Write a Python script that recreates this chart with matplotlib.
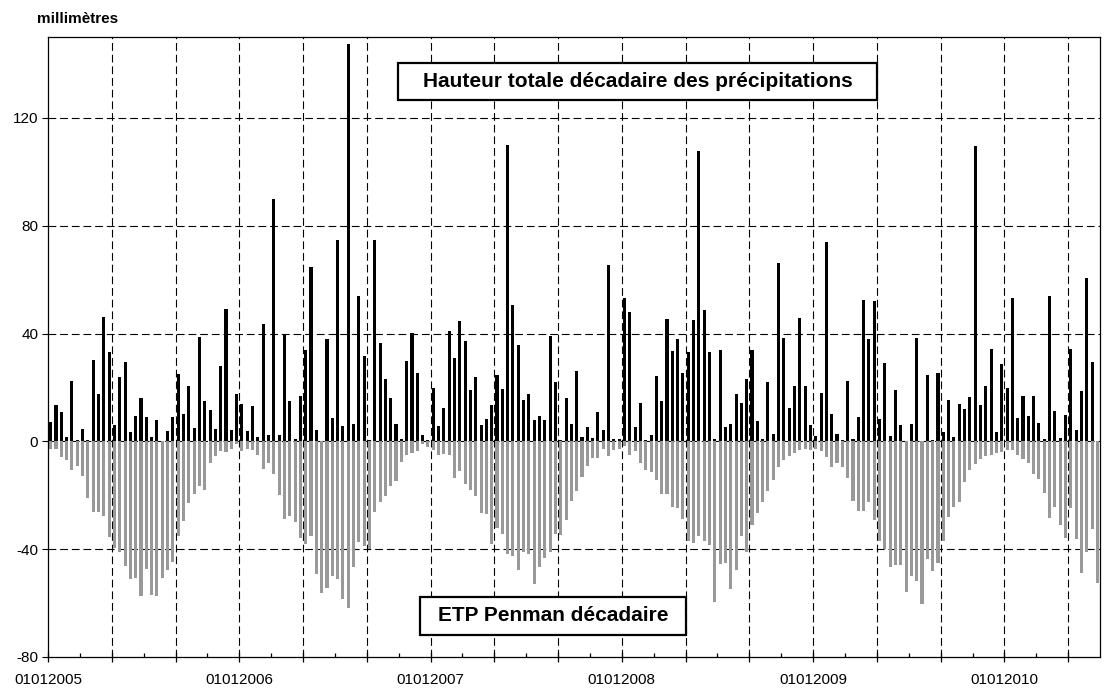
import numpy as np
import matplotlib
matplotlib.use('Agg')
import matplotlib.pyplot as plt
from matplotlib.patches import Rectangle

# decadal rainfall (mm), Jan 2005 -> Jun 2010, 36 dekads a year
precip = [
    7, 13.6, 10.8, 1.5, 22.3, 0.6, 4.7, 0.6, 30, 17.5, 46.2, 33.3, 6.2, 24, 29.6, 3.3, 9.5, 16.2,
    9.2, 1.7, 8, 0, 4, 9, 24.8, 10.3, 20.4, 5, 38.7, 14.8, 11.5, 4.7, 27.8, 49, 4.3, 17.5,
    14, 4, 13.2, 1.5, 43.7, 2.5, 89.9, 2.5, 39.6, 14.8, 1, 16.7, 34, 64.7, 4.3, 0, 37.9, 8.8,
    74.6, 5.8, 147.4, 6.6, 54, 31.6, 0.6, 74.6, 36.3, 23, 16.1, 6.6, 1, 29.7, 40.2, 25.5, 2.2, 0.6,
    19.8, 5.7, 12.4, 40.8, 30.9, 44.6, 37.3, 18.9, 23.9, 5.9, 8.2, 13.4, 24.5, 19.4, 109.9, 50.5, 35.6, 15.2,
    17.5, 7.8, 9.3, 7.8, 39, 21.9, 0.5, 16.1, 6.3, 26, 1.6, 5.2, 1.2, 10.8, 4.1, 65.3, 1, 1,
    53.3, 47.9, 5.2, 14.4, 0.6, 2.2, 24.1, 14.9, 45.5, 33.4, 38.1, 25.5, 33, 44.9, 107.7, 48.9, 33, 1,
    33.8, 5.2, 6.3, 17.7, 14.4, 23, 34, 7.4, 0.7, 21.9, 2.6, 66, 38.5, 12.4, 20.4, 45.9, 20.7, 5.9,
    1.9, 18.1, 73.8, 10.3, 2.6, 0.4, 22.3, 1, 8.9, 52.4, 37.9, 52, 8.4, 29.2, 1.9, 18.9, 5.9, 0.3,
    6.3, 38.5, 0.3, 24.5, 0.4, 25.5, 3.3, 15.2, 1.5, 14, 11.9, 16.3, 109.5, 13.4, 20.4, 34.2, 3.3, 28.6,
    19.8, 53, 8.7, 16.7, 9.4, 16.7, 6.7, 0.7, 53.8, 11.1, 1.2, 9.7, 34.2, 4.1, 18.6, 60.5, 29.3, 0,
]

# decadal Penman ETP (mm), drawn downward
etp = [
    -2.7, -2.7, -5.8, -7.1, -10.8, -9.2, -12.9, -21.1, -26.3, -26.3, -27.6, -35.4, -39.4, -41.2, -46.2, -50.9, -50.6, -57.4,
    -47.2, -57, -57.4, -50.6, -47.7, -44.7, -35, -29.7, -23, -19.5, -16.6, -17.9, -8.1, -5.5, -3.6, -4, -2.7, -1.1,
    -3.6, -2.7, -3.1, -5, -10.2, -8.1, -12, -19.9, -28.9, -27.6, -30.1, -35.7, -38.1, -35.3, -49.1, -56.1, -54.3, -49.9,
    -50.9, -58.4, -61.7, -46.8, -37.3, -38.8, -40, -26.1, -22.6, -20.4, -16.6, -14.9, -7.8, -5.2, -4.3, -3.6, -1.1, -2.1,
    -3.4, -5, -4.6, -5, -13.7, -11, -15.8, -17.9, -20.4, -26.6, -27.1, -38.1, -32.3, -34.5, -41.9, -42.7, -47.8, -41.2,
    -41.9, -52.8, -46.8, -43.1, -40.9, -34.2, -34.8, -29.2, -22, -18.5, -13.3, -9.3, -6.2, -6.2, -3, -5.6, -3.4, -2.8,
    -1.7, -5, -3.6, -8.1, -10.6, -11.4, -14.5, -19.5, -19.5, -24.5, -24.8, -28.9, -36.8, -37.9, -35.3, -37, -38.5, -59.5,
    -45.6, -45, -54.7, -47.6, -35, -41.2, -30.9, -26.7, -22.6, -18.3, -14.5, -9.6, -6.8, -5.5, -4.3, -3.1, -2.7, -3.1,
    -2.7, -3.6, -5.8, -9.6, -8.1, -9.6, -13.7, -22, -25.7, -25.7, -22.4, -29.1, -37.1, -39.8, -46.8, -45.8, -45.8, -55.9,
    -49.9, -51.8, -60.2, -43.5, -48.1, -45.3, -36.9, -28.2, -24.5, -22.6, -15.2, -10.8, -8.3, -6.6, -5.5, -5, -4.3, -3.9,
    -3.1, -3.1, -5, -6.6, -8.1, -12.2, -14, -19.3, -28.6, -24.2, -31.2, -36, -24.8, -36.4, -48.9, -40.9, -32.7, -52.4,
]

year_labels = ['01012005', '01012006', '01012007', '01012008', '01012009', '01012010']
y_ticks = [-80, -40, 0, 40, 80, 120]

plt.rcParams['font.family'] = ['Liberation Sans', 'DejaVu Sans']

fig = plt.figure(figsize=(11.04, 6.93), dpi=100)
ax = fig.add_axes([0.0435, 0.052, 0.9529, 0.8946])

x = np.arange(len(precip)) + 0.5
ax.bar(x, etp, width=0.58, color='#999999', zorder=2)
ax.bar(x, precip, width=0.58, color='black', zorder=3)

ax.set_xlim(0, len(precip))
ax.set_ylim(-80, 150)

# dashed grid: horizontal at labels, vertical every 4 months (12 dekads)
dash = (0, (7, 3.5))
for v in [-40, 0, 40, 80, 120]:
    ax.axhline(v, color='black', lw=0.8, linestyle=dash, zorder=1)
for k in range(12, len(precip), 12):
    ax.axvline(k, color='black', lw=0.8, linestyle=dash, zorder=1)

ax.set_yticks(y_ticks)
ax.set_yticklabels([str(v) for v in y_ticks], fontsize=11)
ax.tick_params(axis='y', direction='out', length=4, width=0.8, pad=3)

ax.set_xticks(range(0, len(precip) + 1, 12))
ax.set_xticklabels([year_labels[k // 36] if k % 36 == 0 else '' for k in range(0, len(precip) + 1, 12)],
                   fontsize=11)
ax.set_xticks(range(6, len(precip), 12), minor=True)
ax.tick_params(axis='x', which='major', direction='inout', length=7, width=0.9, pad=8)
ax.tick_params(axis='x', which='minor', direction='in', length=3, width=0.9)

for s in ax.spines.values():
    s.set_linewidth(0.9)

fig.text(0.0335, 0.972, 'millimètres', fontsize=11, fontweight='bold', ha='left', va='center')

# framed captions
for (x0, x1, y0, y1), label in [((0.3327, 0.788, 0.898, 0.958), 'Hauteur totale décadaire des précipitations'),
                                 ((0.3536, 0.6065, 0.0355, 0.0968), 'ETP Penman décadaire')]:
    ax.add_patch(Rectangle((x0, y0), x1 - x0, y1 - y0, transform=ax.transAxes,
                           facecolor='white', edgecolor='black', linewidth=1.6, zorder=5))
    ax.text((x0 + x1) / 2, (y0 + y1) / 2, label, transform=ax.transAxes,
            fontsize=15, fontweight='bold', ha='center', va='center', zorder=6)

plt.savefig('out.png', dpi=100)
